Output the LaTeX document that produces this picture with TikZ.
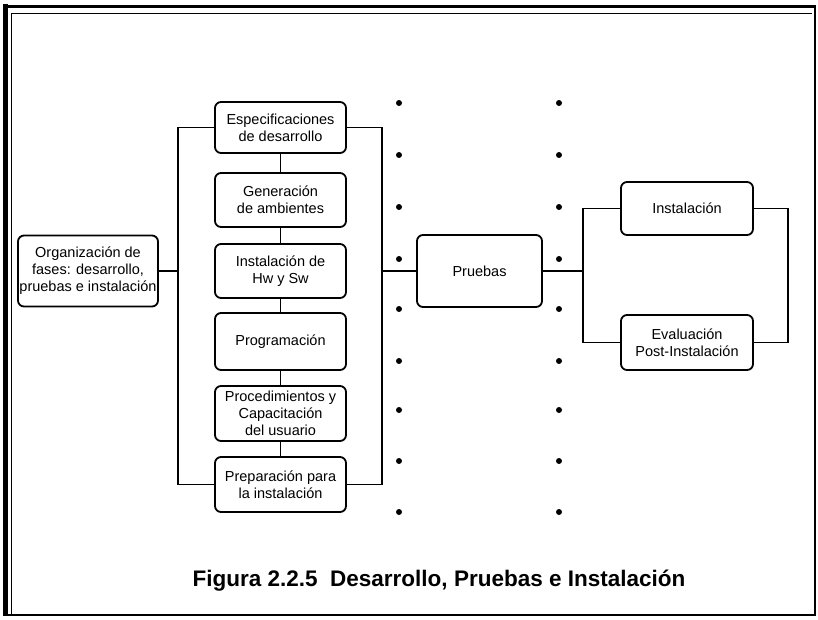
\documentclass[tikz,border=0pt]{standalone}
\usepackage{fontspec}
\setmainfont{Liberation Sans}
\begin{document}
\begin{tikzpicture}[x=1pt,y=-1pt,
  line width=1.8pt,
  box/.style={draw, rounded corners=6pt, align=center, inner sep=1pt,
    font=\fontsize{14.5}{17}\selectfont},
  colbox/.style={box, minimum width=131pt},
  sidebox/.style={box, minimum width=132pt},
  dot/.style={circle, fill, inner sep=0pt, minimum size=6pt}]
\useasboundingbox (0,0) rectangle (818,619);

% page frame
\draw[line width=5pt] (5,4) -- (5,616);
\draw[line width=3pt] (3,6) -- (816,6);
\draw[line width=1.5pt] (815,6) -- (815,615) -- (3,615);
\draw[line width=1pt] (11,614) -- (11,13) -- (812,13);

% left block
\node[box, minimum width=140pt, minimum height=71pt] (org) at (88,271)
  {Organización de\\fases: desarrollo,\\pruebas e instalación};

% development stack
\node[colbox, minimum height=51pt] (espec) at (280.5,127.5) {Especificaciones\\de desarrollo};
\node[colbox, minimum height=54pt] (gen) at (280.5,200) {Generación\\de ambientes};
\node[colbox, minimum height=54pt] (hw) at (280.5,271) {Instalación de\\Hw y Sw};
\node[colbox, minimum height=57pt] (prog) at (280.5,341.5) {Programación};
\node[colbox, minimum height=55pt] (proc) at (280.5,413.5) {Procedimientos y\\Capacitación\\del usuario};
\node[colbox, minimum height=55pt] (prep) at (280.5,484.5) {Preparación para\\la instalación};

% tests
\node[box, minimum width=125pt, minimum height=72pt] (pru) at (479.5,271) {Pruebas};

% installation
\node[sidebox, minimum height=53pt] (inst) at (687,208.5) {Instalación};
\node[sidebox, minimum height=55pt] (eval) at (687,342.5) {Evaluación\\Post-Instalación};

% bus positions
\coordinate (lb) at (178,0);
\coordinate (rb) at (382,0);
\coordinate (pb) at (583,0);
\coordinate (eb) at (788,0);

% connectors
\draw (org.east) -- (org.east -| lb);
\draw (espec.west) -| (lb |- prep.west) -- (prep.west);
\draw (espec.east) -| (rb |- prep.east) -- (prep.east);
\draw (espec.south) -- (gen.north);
\draw (gen.south) -- (hw.north);
\draw (hw.south) -- (prog.north);
\draw (prog.south) -- (proc.north);
\draw (proc.south) -- (prep.north);
\draw (rb |- pru.west) -- (pru.west);
\draw (pru.east) -- (pru.east -| pb);
\draw (inst.west) -| (pb |- eval.west) -- (eval.west);
\draw (inst.east) -| (eb |- eval.east) -- (eval.east);

% dotted separators
\foreach \yy [count=\i] in {103,155,207,259,309,361,410,461,512} {
  \node[dot] (da\i) at (399,\yy) {};
  \node[dot] (db\i) at (559,\yy) {};
}

% caption
\node[font=\fontsize{22.5}{25}\selectfont\bfseries] (cap) at (439,581)
  {Figura 2.2.5\ \ Desarrollo, Pruebas e Instalación};
\end{tikzpicture}
\end{document}
